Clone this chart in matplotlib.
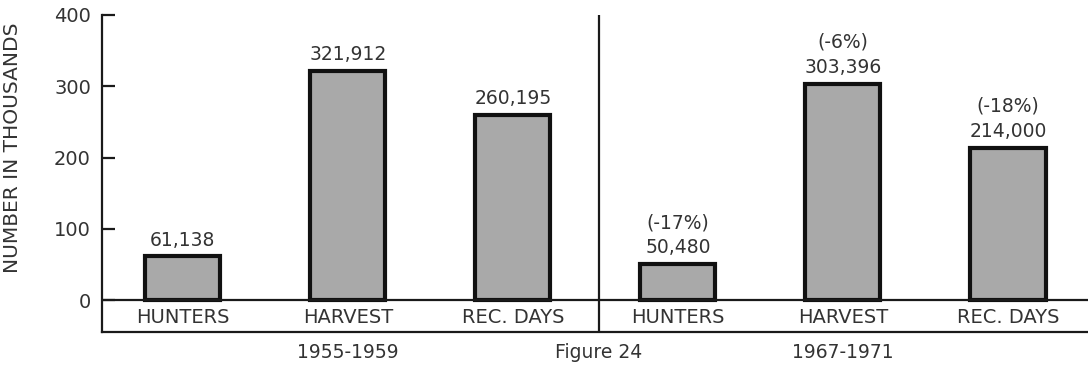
import matplotlib
matplotlib.use("Agg")
import matplotlib.pyplot as plt

# data (thousands)
categories = ["HUNTERS", "HARVEST", "REC. DAYS", "HUNTERS", "HARVEST", "REC. DAYS"]
values = [61.138, 321.912, 260.195, 50.480, 303.396, 214.000]
value_labels = ["61,138", "321,912", "260,195",
                "(-17%)\n50,480", "(-6%)\n303,396", "(-18%)\n214,000"]
periods = ["1955-1959", "1967-1971"]
yticks = [0, 100, 200, 300, 400]

ink = "#1a1a1a"
plt.rcParams["font.family"] = ["DejaVu Sans"]

fig = plt.figure(figsize=(10.88, 3.65), dpi=100)
ax = fig.add_axes([102 / 1088, 33 / 365, 1 - 102 / 1088, 317 / 365])

x = list(range(len(categories)))
ax.bar(x, values, width=0.455, color="#a9a9a9", edgecolor="#111111",
       linewidth=3.0, zorder=3)

for xi, v, lab in zip(x, values, value_labels):
    ax.annotate(lab, (xi, v), xytext=(0, 5), textcoords="offset points",
                ha="center", va="bottom", fontsize=13.5, color="#333333",
                linespacing=1.4)

for xi, c in zip(x, categories):
    ax.text(xi, -25, c, ha="center", va="center", fontsize=14, color="#333333")

ax.text(1, -73, periods[0], ha="center", va="center", fontsize=13.5,
        color="#333333", clip_on=False)
ax.text(4, -73, periods[1], ha="center", va="center", fontsize=13.5,
        color="#333333", clip_on=False)
ax.text(2.52, -73, "Figure 24", ha="center", va="center", fontsize=13.5,
        color="#333333", clip_on=False)

ax.set_xlim(-0.49, 5.485)
ax.set_ylim(-44.9, 400)

ax.axhline(0, color=ink, linewidth=1.6, zorder=4)
ax.axvline(2.52, color=ink, linewidth=1.6, zorder=4)

for s in ["top", "right"]:
    ax.spines[s].set_visible(False)
ax.spines["left"].set_linewidth(1.6)
ax.spines["bottom"].set_linewidth(1.6)
ax.spines["left"].set_color(ink)
ax.spines["bottom"].set_color(ink)

ax.set_xticks([])
ax.set_yticks(yticks)
ax.set_yticklabels([str(t) for t in yticks])
ax.tick_params(axis="y", direction="in", length=9, width=1.6, color=ink,
               labelsize=14, labelcolor="#333333", pad=8)

ax.set_ylabel("NUMBER IN THOUSANDS", fontsize=14.5, color="#333333")
ax.yaxis.set_label_coords(-80 / 986, 0.58)

fig.savefig("out.png", dpi=100)
